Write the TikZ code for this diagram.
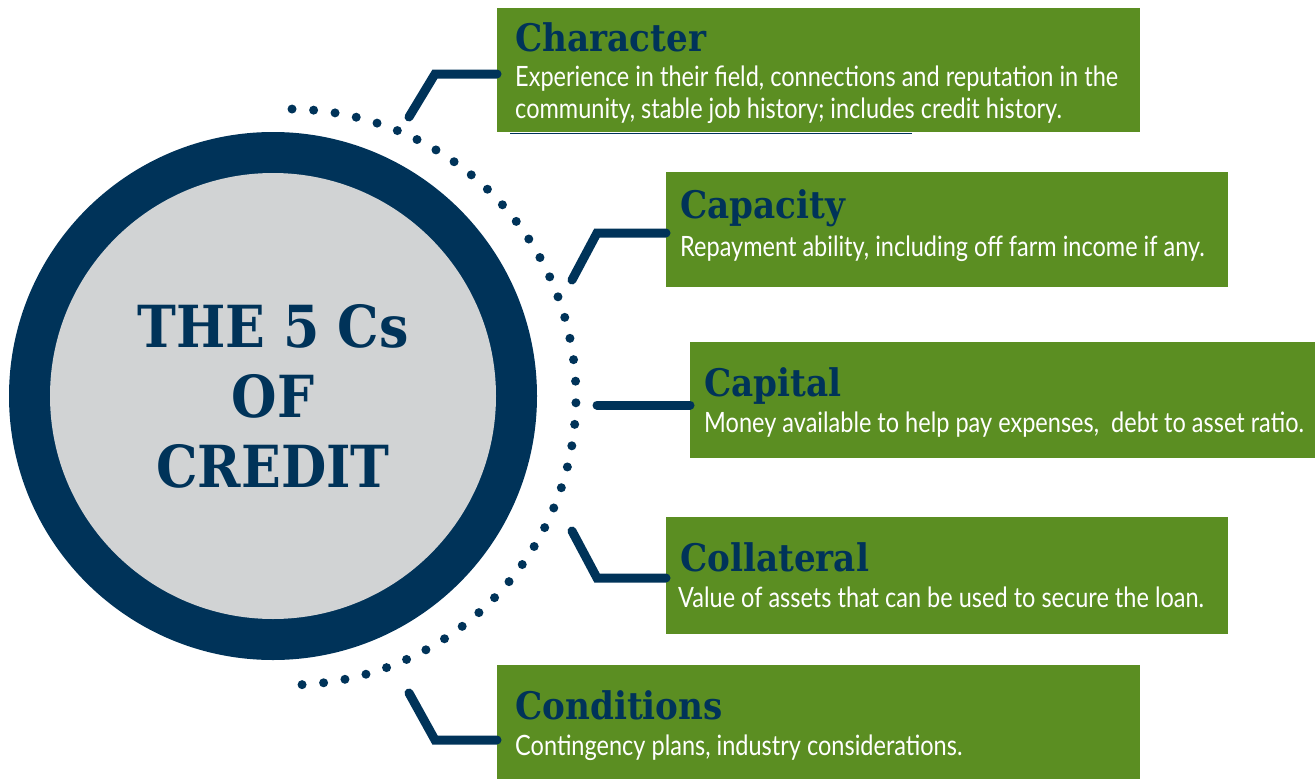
\documentclass[tikz,border=0pt]{standalone}
\usepackage{fontspec}
\setmainfont{Lato}[FakeStretch=0.84]
\newfontfamily\slabfont{DejaVu Serif}[FakeStretch=0.9]
\definecolor{navy}{RGB}{0,51,89}
\definecolor{leaf}{RGB}{91,142,34}
\definecolor{disc}{RGB}{209,211,212}
\tikzset{
  cbox/.style={fill=leaf, inner sep=0pt, anchor=north west},
  link/.style={draw=navy, line width=9pt, line cap=round},
  head/.style={anchor=base west, inner sep=0pt, text=navy,
    font=\slabfont\bfseries\fontsize{38}{46}\selectfont},
  body/.style={anchor=base west, inner sep=0pt, text=white, align=left,
    font=\fontsize{28}{32}\selectfont},
}
\begin{document}
\begin{tikzpicture}[x=1pt,y=-1pt]
  \useasboundingbox (0,0) rectangle (1315,779);

  % the big disc
  \fill[navy] (273,396) circle (264);
  \fill[disc] (273,396) circle (223);
  \node[text=navy, align=center, font=\slabfont\bfseries\fontsize{58}{70}\selectfont]
    (title) at (273,396) {THE 5 Cs\\OF\\CREDIT};

  % dotted arc
  \foreach \a in {0,...,41}
    \fill[navy] ({288+288*cos(89.2-\a*176.4/41)}, {397-288*sin(89.2-\a*176.4/41)}) circle (4.5);

  % boxes
  \node[cbox, minimum width=643pt, minimum height=124pt] (character) at (497,8) {};
  \node[cbox, minimum width=562pt, minimum height=115pt] (capacity) at (666,172) {};
  \node[cbox, minimum width=625pt, minimum height=116pt] (capital) at (690,342) {};
  \node[cbox, minimum width=562pt, minimum height=117pt] (collateral) at (666,517) {};
  \node[cbox, minimum width=643pt, minimum height=114pt] (conditions) at (497,665) {};
  \draw[navy, line width=1.5pt] (510,133.5) -- (912,133.5);

  \node[head] (character-h) at (515,51) {Character};
  \node[body] (character-b) at (515,118)
    {Experience in their field, connections and reputation in the\\
     community, stable job history; includes credit history.};
  \node[head] (capacity-h) at (680,218) {Capacity};
  \node[body] (capacity-b) at (680,256) {Repayment ability, including off farm income if any.};
  \node[head] (capital-h) at (704,396) {Capital};
  \node[body] (capital-b) at (704,432) {Money available to help pay expenses,\ \ debt to asset ratio.};
  \node[head] (collateral-h) at (680,571) {Collateral};
  \node[body] (collateral-b) at (678,607) {Value of assets that can be used to secure the loan.};
  \node[head] (conditions-h) at (515,719) {Conditions};
  \node[body] (conditions-b) at (515,755) {Contingency plans, industry considerations.};

  % connectors
  \coordinate (ch-tip) at (409,117);
  \coordinate (ch-bend) at (435,74);
  \coordinate (cy-tip) at (572,280);
  \coordinate (cy-bend) at (597,233);
  \coordinate (cl-tip) at (597,405);
  \coordinate (co-tip) at (572,531);
  \coordinate (co-bend) at (597,578);
  \coordinate (cn-tip) at (409,693);
  \coordinate (cn-bend) at (435,740);
  \draw[link] (ch-tip) -- (ch-bend) -- (ch-bend -| character.west);
  \draw[link] (cy-tip) -- (cy-bend) -- (cy-bend -| capacity.west);
  \draw[link] (cl-tip) -- (cl-tip -| capital.west);
  \draw[link] (co-tip) -- (co-bend) -- (co-bend -| collateral.west);
  \draw[link] (cn-tip) -- (cn-bend) -- (cn-bend -| conditions.west);
\end{tikzpicture}
\end{document}
